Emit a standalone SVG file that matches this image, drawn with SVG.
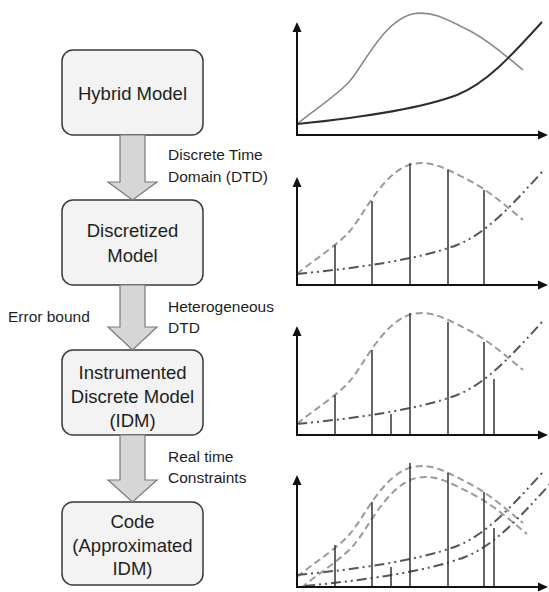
<svg xmlns="http://www.w3.org/2000/svg" xmlns:xlink="http://www.w3.org/1999/xlink" width="549" height="592" viewBox="0 0 549 592">
<style>
.box{fill:#f3f3f3;stroke:#3a3a3a;stroke-width:1.5}
.arrow{fill:#d6d6d6;stroke:#7a7a7a;stroke-width:1.2}
.bt{font-family:"Liberation Sans",Arial,sans-serif;font-size:18.5px;fill:#1e1e1e;text-anchor:middle}
.lbl{font-family:"Liberation Sans",Arial,sans-serif;font-size:15.5px;fill:#1e1e1e}
.axis{stroke:#111;stroke-width:2;fill:none}
.ah{fill:#111}
.solidA{fill:none;stroke:#8a8a8a;stroke-width:1.6}
.solidB{fill:none;stroke:#2e2e2e;stroke-width:2}
.dash{fill:none;stroke:#9a9a9a;stroke-width:2;stroke-dasharray:7,4}
.dd{fill:none;stroke:#555;stroke-width:2;stroke-dasharray:10,4,2,4,2,4}
.v{stroke:#333;stroke-width:1.5}
</style>
<defs>
<path id="bell" d="M0,-11 C18,-26 38,-38 52,-53 C66,-68 85,-113 115,-121 C135,-125 150,-116 175,-103 C195,-92 210,-78 226,-65"/>
<path id="expo" d="M0,-11 C60,-17 120,-25 160,-40 C190,-52 215,-80 245,-113"/>
<clipPath id="clip4"><rect x="0" y="-130" width="252" height="129"/></clipPath>
</defs>

<g id="hybrid-model">
<rect class="box" x="62" y="50" width="141" height="85" rx="11"/>
<text class="bt" x="132.5" y="100">Hybrid Model</text>
</g>
<g id="discretized-model">
<rect class="box" x="62" y="200" width="141" height="85" rx="11"/>
<text class="bt" x="132.5" y="237">Discretized</text>
<text class="bt" x="132.5" y="262">Model</text>
</g>
<g id="idm">
<rect class="box" x="62" y="350" width="141" height="85" rx="11"/>
<text class="bt" x="132.5" y="379">Instrumented</text>
<text class="bt" x="132.5" y="403">Discrete Model</text>
<text class="bt" x="132.5" y="427">(IDM)</text>
</g>
<g id="code">
<rect class="box" x="62" y="502" width="141" height="83" rx="11"/>
<text class="bt" x="132.5" y="528">Code</text>
<text class="bt" x="132.5" y="552">(Approximated</text>
<text class="bt" x="132.5" y="575">IDM)</text>
</g>

<g id="connectors">
<polygon class="arrow" points="120,135 145,135 145,182 157,182 132.5,200 108,182 120,182"/>
<polygon class="arrow" points="120,285 145,285 145,327 157,327 132.5,350 108,327 120,327"/>
<polygon class="arrow" points="120,435 145,435 145,480 157,480 132.5,502 108,480 120,480"/>
</g>

<g id="labels">
<text class="lbl" x="168" y="160">Discrete Time</text>
<text class="lbl" x="168" y="182">Domain (DTD)</text>
<text class="lbl" x="8" y="322">Error bound</text>
<text class="lbl" x="168" y="312">Heterogeneous</text>
<text class="lbl" x="168" y="333">DTD</text>
<text class="lbl" x="168" y="462">Real time</text>
<text class="lbl" x="168" y="483">Constraints</text>
</g>

<g id="chart1" transform="translate(297,135)">
<use href="#bell" class="solidA"/>
<use href="#expo" class="solidB"/>
<line class="axis" x1="0" y1="1" x2="0" y2="-105"/>
<polygon class="ah" points="0,-113 -4.5,-103 4.5,-103"/>
<line class="axis" x1="-1" y1="0" x2="243" y2="0"/>
<polygon class="ah" points="251,0 241,-4.5 241,4.5"/>
</g>

<g id="chart2" transform="translate(297,285)">
<use href="#bell" class="dash"/>
<use href="#expo" class="dd"/>
<line class="v" x1="38" y1="0" x2="38" y2="-40"/>
<line class="v" x1="75" y1="0" x2="75" y2="-84"/>
<line class="v" x1="113" y1="0" x2="113" y2="-122"/>
<line class="v" x1="151" y1="0" x2="151" y2="-115"/>
<line class="v" x1="187" y1="0" x2="187" y2="-95"/>
<line class="axis" x1="0" y1="1" x2="0" y2="-100"/>
<polygon class="ah" points="0,-108 -4.5,-98 4.5,-98"/>
<line class="axis" x1="-1" y1="0" x2="243" y2="0"/>
<polygon class="ah" points="251,0 241,-4.5 241,4.5"/>
</g>

<g id="chart3" transform="translate(297,435)">
<use href="#bell" class="dash"/>
<use href="#expo" class="dd"/>
<line class="v" x1="38" y1="0" x2="38" y2="-40"/>
<line class="v" x1="75" y1="0" x2="75" y2="-85"/>
<line class="v" x1="94" y1="0" x2="94" y2="-21"/>
<line class="v" x1="113" y1="0" x2="113" y2="-122"/>
<line class="v" x1="151" y1="0" x2="151" y2="-113"/>
<line class="v" x1="187" y1="0" x2="187" y2="-93"/>
<line class="v" x1="197" y1="0" x2="197" y2="-56"/>
<line class="axis" x1="0" y1="1" x2="0" y2="-101"/>
<polygon class="ah" points="0,-109 -4.5,-99 4.5,-99"/>
<line class="axis" x1="-1" y1="0" x2="243" y2="0"/>
<polygon class="ah" points="251,0 241,-4.5 241,4.5"/>
</g>

<g id="chart4" transform="translate(297,587)">
<use href="#bell" class="dash" transform="translate(0,1)"/>
<use href="#expo" class="dd" transform="translate(0,-1)"/>
<g clip-path="url(#clip4)">
<use href="#bell" class="dash" transform="translate(4,12)"/>
<use href="#expo" class="dd" transform="translate(8,10)"/>
</g>
<line class="v" x1="38" y1="0" x2="38" y2="-42"/>
<line class="v" x1="75" y1="0" x2="75" y2="-85"/>
<line class="v" x1="94" y1="0" x2="94" y2="-20"/>
<line class="v" x1="113" y1="0" x2="113" y2="-124"/>
<line class="v" x1="151" y1="0" x2="151" y2="-114"/>
<line class="v" x1="187" y1="0" x2="187" y2="-95"/>
<line class="v" x1="197" y1="0" x2="197" y2="-59"/>
<line class="axis" x1="0" y1="1" x2="0" y2="-104"/>
<polygon class="ah" points="0,-112 -4.5,-102 4.5,-102"/>
<line class="axis" x1="-1" y1="0" x2="243" y2="0"/>
<polygon class="ah" points="251,0 241,-4.5 241,4.5"/>
</g>
</svg>
